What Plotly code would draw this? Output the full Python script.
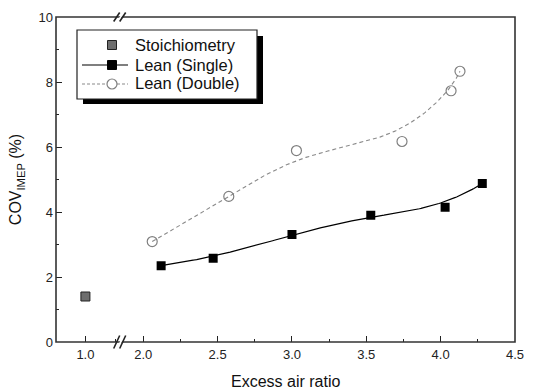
import numpy as np
import plotly.graph_objects as go

# ---- data ----
stoich_x = [1.0]
stoich_y = [1.40]
single_x = [2.12, 2.47, 3.00, 3.53, 4.03, 4.28]
single_y = [2.35, 2.58, 3.31, 3.90, 4.15, 4.88]
double_x = [2.06, 2.575, 3.03, 3.74, 4.07, 4.13]
double_y = [3.09, 4.48, 5.89, 6.17, 7.73, 8.33]
yticks = [0, 2, 4, 6, 8, 10]
xticks_left = [1.0]
xticks_right = [2.0, 2.5, 3.0, 3.5, 4.0, 4.5]
legend_names = ["Stoichiometry", "Lean (Single)", "Lean (Double)"]

W, H = 534, 392
ML, MR, MT, MB = 56, 10, 14, 50
PW = W - ML - MR
PH = H - MT - MB
S = 151.6  # px per x unit
brk_l, brk_r = 122, 126
d1 = (brk_l - ML) / PW
d2 = (brk_r - ML) / PW
x1_at = 86
left_range = [1.0 - (x1_at - ML) / S, 1.0 + (brk_l - x1_at) / S]
right_range = [4.5 - (W - MR - brk_r) / S, 4.5]


def bspline(px, py, n=200):
    """Clamped cubic B-spline using data points as control points."""
    P = np.column_stack([px, py])
    m = len(P)
    k = 3
    inner = np.linspace(0, 1, m - k + 1)
    t = np.concatenate([[0] * k, inner, [1] * k])
    us = np.linspace(0, 1, n)
    out = []
    for u in us:
        if u >= 1:
            u = 1 - 1e-12
        N = np.array([1.0 if t[i] <= u < t[i + 1] else 0.0 for i in range(len(t) - 1)])
        for d in range(1, k + 1):
            Nn = np.zeros(len(t) - 1 - d)
            for i in range(len(Nn)):
                a = 0.0
                if t[i + d] != t[i]:
                    a += (u - t[i]) / (t[i + d] - t[i]) * N[i]
                if t[i + d + 1] != t[i + 1]:
                    a += (t[i + d + 1] - u) / (t[i + d + 1] - t[i + 1]) * N[i + 1]
                Nn[i] = a
            N = Nn
        out.append(N @ P)
    out = np.array(out)
    return out[:, 0], out[:, 1]


sx, sy = bspline(single_x, single_y)
dx, dy = bspline(double_x, double_y)

SINGLE_LINE = dict(color="black", width=1.2)
DOUBLE_LINE = dict(color="#8a8a8a", width=1.1, dash="4px,3px")

fig = go.Figure()
fig.add_trace(go.Scatter(x=sx, y=sy, xaxis="x2", mode="lines", line=SINGLE_LINE,
                         showlegend=False, hoverinfo="skip"))
fig.add_trace(go.Scatter(x=dx, y=dy, xaxis="x2", mode="lines", line=DOUBLE_LINE,
                         showlegend=False, hoverinfo="skip"))
fig.add_trace(go.Scatter(x=stoich_x, y=stoich_y, mode="markers", name=legend_names[0], showlegend=False,
                         marker=dict(symbol="square", size=9, color="#6e6e6e",
                                     line=dict(color="#222", width=1))))
fig.add_trace(go.Scatter(x=single_x, y=single_y, xaxis="x2", mode="markers", name=legend_names[1],
                         showlegend=False, marker=dict(symbol="square", size=9, color="black")))
fig.add_trace(go.Scatter(x=double_x, y=double_y, xaxis="x2", mode="markers", name=legend_names[2],
                         showlegend=False,
                         marker=dict(symbol="circle-open", size=10, color="#808080", line=dict(width=1.2))))

tickfont = dict(family="Liberation Sans, Arial, sans-serif", size=13, color="#222")


def px2paper_x(p):
    return (p - ML) / PW


def py2paper_y(p):
    return 1 - (p - MT) / PH


def pix(shape_kw):
    base = dict(xref="paper", yref="paper", xsizemode="pixel", ysizemode="pixel",
                xanchor=0, yanchor=1, layer="above")
    base.update(shape_kw)
    return base


def ox(X):
    return X - ML


def oy(Y):
    return -(Y - MT)


shapes = []
shapes.append(dict(type="rect", xref="paper", yref="paper", x0=0, x1=1, y0=0, y1=1,
                   line=dict(color="#333", width=1.6), layer="above"))
# axis break marks
bx = px2paper_x(124)
for yanchor, h in [(0, 6.5), (1, 4.5)]:
    shapes.append(dict(type="path", xref="paper", yref="paper", xsizemode="pixel", ysizemode="pixel",
                       xanchor=bx, yanchor=yanchor,
                       path=f"M -6,-{h} L 0,{h} L 2,{h} L -4,-{h} Z",
                       fillcolor="white", line=dict(width=0), layer="above"))
    for off in (-6, 0):
        shapes.append(dict(type="line", xref="paper", yref="paper", xsizemode="pixel", ysizemode="pixel",
                           xanchor=bx, yanchor=yanchor,
                           x0=off - 3, y0=-h, x1=off + 3, y1=h,
                           line=dict(color="#222", width=1.6), layer="above"))
# legend box + shadow
shapes.append(pix(dict(type="rect", x0=ox(83), x1=ox(263), y0=oy(33), y1=oy(101),
                       fillcolor="black", line=dict(width=0))))
shapes.append(pix(dict(type="rect", x0=ox(77), x1=ox(257), y0=oy(27), y1=oy(96),
                       fillcolor="white", line=dict(color="#222", width=1.2))))
# legend symbols
item_y = [42, 62, 81]
mx = 112
# stoich
shapes.append(pix(dict(type="rect", x0=ox(mx - 4.5), x1=ox(mx + 4.5), y0=oy(item_y[0] - 4.5),
                       y1=oy(item_y[0] + 4.5), fillcolor="#6e6e6e", line=dict(color="#222", width=1))))
# single
shapes.append(pix(dict(type="line", x0=ox(82), x1=ox(128), y0=oy(item_y[1]), y1=oy(item_y[1]),
                       line=SINGLE_LINE)))
shapes.append(pix(dict(type="rect", x0=ox(mx - 4.5), x1=ox(mx + 4.5), y0=oy(item_y[1] - 4.5),
                       y1=oy(item_y[1] + 4.5), fillcolor="black", line=dict(color="black", width=1))))
# double
shapes.append(pix(dict(type="line", x0=ox(82), x1=ox(128), y0=oy(item_y[2]), y1=oy(item_y[2]),
                       line=dict(color="#8a8a8a", width=1.1, dash="3px,2px"))))
shapes.append(pix(dict(type="circle", x0=ox(mx - 5), x1=ox(mx + 5), y0=oy(item_y[2] - 5),
                       y1=oy(item_y[2] + 5), fillcolor="white", line=dict(color="#808080", width=1.2))))

annotations = [dict(text="Excess air ratio", xref="paper", yref="paper",
                    x=px2paper_x(290), y=py2paper_y(382), xanchor="center", yanchor="middle",
                    showarrow=False, font=dict(size=16, color="#111"))]
for name, yy in zip(legend_names, item_y):
    annotations.append(dict(text=name, xref="paper", yref="paper", x=px2paper_x(134),
                            y=py2paper_y(yy), xanchor="left", yanchor="middle", showarrow=False,
                            font=dict(size=16.5, color="#111")))

fig.update_layout(
    width=W, height=H,
    margin=dict(l=ML, r=MR, t=MT, b=MB, pad=0),
    paper_bgcolor="white", plot_bgcolor="white",
    font=dict(family="Liberation Sans, Arial, sans-serif", color="#111"),
    showlegend=False,
    xaxis=dict(domain=[0, d1], range=left_range, anchor="y",
               tickmode="array", tickvals=xticks_left, ticktext=["1.0"],
               ticks="inside", ticklen=6, tickwidth=1.3, tickcolor="#222",
               minor=dict(tickvals=[1.2], ticks="inside", ticklen=3, tickwidth=1.3, tickcolor="#222"),
               showgrid=False, zeroline=False, showline=False, tickfont=tickfont,
               ticklabelstandoff=3),
    xaxis2=dict(domain=[d2, 1], range=right_range, anchor="y",
                tickmode="array", tickvals=xticks_right,
                ticktext=[f"{v:.1f}" for v in xticks_right],
                ticks="inside", ticklen=6, tickwidth=1.3, tickcolor="#222",
                minor=dict(tickvals=[2.25, 2.75, 3.25, 3.75, 4.25], ticks="inside", ticklen=3,
                           tickwidth=1.3, tickcolor="#222"),
                showgrid=False, zeroline=False, showline=False, tickfont=tickfont,
                ticklabelstandoff=3),
    yaxis=dict(range=[0, 10], tickmode="array", tickvals=yticks,
               ticks="inside", ticklen=6, tickwidth=1.3, tickcolor="#222",
               minor=dict(tickvals=[1, 3, 5, 7, 9], ticks="inside", ticklen=3, tickwidth=1.3,
                          tickcolor="#222"),
               showgrid=False, zeroline=False, showline=False, tickfont=tickfont,
               ticklabelstandoff=2,
               title=dict(text="COV<sub>IMEP</sub> (%)", font=dict(size=16, color="#111"), standoff=12)),
    shapes=shapes,
    annotations=annotations,
)

fig.write_html("out.html")
